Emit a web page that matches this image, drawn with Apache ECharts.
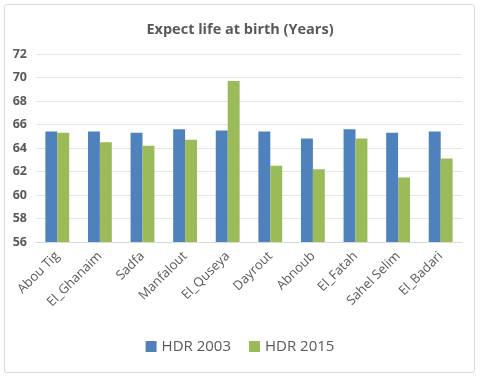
<!DOCTYPE html>
<html>
<head>
<meta charset="utf-8">
<script src="https://cdn.jsdelivr.net/npm/echarts@6/dist/echarts.min.js"></script>
<style>
  html, body { margin: 0; padding: 0; background: #fff; }
  #main { width: 480px; height: 377px; }
  #frame { position: absolute; left: 4px; top: 4px; width: 469px; height: 367px; border: 1px solid #d9d9d9; border-radius: 3px; pointer-events: none; }
</style>
</head>
<body>
<div id="main"></div>
<div id="frame"></div>
<script>
// categories and values
var districts = ['Abou Tig', 'El_Ghanaim', 'Sadfa', 'Manfalout', 'El_Quseya', 'Dayrout', 'Abnoub', 'El_Fatah', 'Sahel Selim', 'El_Badari'];
var hdr2003 = [65.4, 65.4, 65.3, 65.6, 65.5, 65.4, 64.8, 65.6, 65.3, 65.4];
var hdr2015 = [65.3, 64.5, 64.2, 64.7, 69.7, 62.5, 62.2, 64.8, 61.5, 63.1];

var myChart = echarts.init(document.getElementById('main'));
var txt = '#595959';
var fontFam = '"Open Sans", "Liberation Sans", sans-serif';

myChart.setOption({
  backgroundColor: '#fff',
  animation: false,
  title: {
    text: 'Expect life at birth (Years)',
    left: 'center',
    top: 17,
    textStyle: { color: txt, fontSize: 14.5, fontWeight: 'bold', fontFamily: fontFam }
  },
  legend: {
    data: ['HDR 2003', 'HDR 2015'],
    bottom: 18,
    left: 'center',
    itemWidth: 11,
    itemHeight: 11,
    itemGap: 18,
    icon: 'rect',
    textStyle: { color: txt, fontSize: 15, fontFamily: fontFam }
  },
  grid: { left: 36, right: 18, top: 54, bottom: 135 },
  xAxis: {
    type: 'category',
    data: districts,
    axisTick: { show: false },
    axisLine: { lineStyle: { color: '#d9d9d9' } },
    axisLabel: {
      interval: 0,
      rotate: 45,
      color: txt,
      fontSize: 13,
      fontFamily: fontFam,
      margin: 12
    }
  },
  yAxis: {
    type: 'value',
    min: 56,
    max: 72,
    interval: 2,
    axisLine: { show: false },
    axisTick: { show: false },
    splitLine: { lineStyle: { color: '#e6e6e6' } },
    axisLabel: { color: txt, fontSize: 12.5, fontWeight: 'bold', fontFamily: fontFam, margin: 9 }
  },
  series: [
    {
      name: 'HDR 2003',
      type: 'bar',
      data: hdr2003,
      barGap: '0%',
      barCategoryGap: '44%',
      itemStyle: { color: '#4f81bd' }
    },
    {
      name: 'HDR 2015',
      type: 'bar',
      data: hdr2015,
      itemStyle: { color: '#9bbb59' }
    }
  ]
});
</script>
</body>
</html>
